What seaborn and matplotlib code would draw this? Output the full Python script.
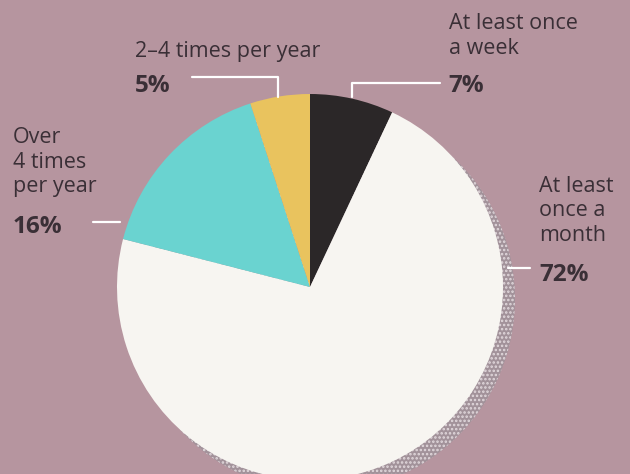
import matplotlib
matplotlib.use("Agg")
import matplotlib.pyplot as plt
import seaborn as sns
from matplotlib.patches import Circle

# Survey shares, clockwise from 12 o'clock
categories = ["At least once a week", "At least once a month",
              "Over 4 times per year", "2-4 times per year"]
shares = [7, 72, 16, 5]
label_texts = ["At least once\na week", "At least\nonce a\nmonth",
               "Over\n4 times\nper year", "2–4 times per year"]
slice_colors = ["#2b2728", "#f7f5f1", "#6ad3d0", "#e9c35e"]

BG = "#b6959f"
INK = "#3a2f36"

sns.set_theme(style="white")
plt.rcParams["font.family"] = ["Open Sans", "DejaVu Sans"]
plt.rcParams["hatch.color"] = "#e2d9dd"
plt.rcParams["hatch.linewidth"] = 1.2

W, H = 630, 474
fig = plt.figure(figsize=(W / 100, H / 100), dpi=100)
fig.patch.set_facecolor(BG)
ax = fig.add_axes([0, 0, 1, 1])
ax.set_facecolor(BG)

# pixel frame: pie centre and radius in image pixels
cx, cy, R = 310, 287, 193


def px(x, y):
    return (x - cx) / R, (cy - y) / R


# halftone drop shadow behind the pie
shadow = Circle((12 / R, -12 / R), 1.0, facecolor="#a2929a", edgecolor="#e2d9dd",
                hatch="....", linewidth=0, zorder=1)
ax.add_patch(shadow)

wedges, _ = ax.pie(shares, colors=slice_colors, startangle=90,
                   counterclock=False, radius=1.0,
                   wedgeprops=dict(linewidth=0))
for w in wedges:
    w.set_zorder(2)

ax.set_xlim(-cx / R, (W - cx) / R)
ax.set_ylim(-(H - cy) / R, cy / R)
ax.set_aspect("auto")
ax.axis("off")

# leader lines
lw = 1.6
lc = "white"
ax.plot(*zip(px(352, 97), px(352, 83), px(440, 83)), color=lc, lw=lw, zorder=3)
ax.plot(*zip(px(278, 97), px(278, 77), px(192, 77)), color=lc, lw=lw, zorder=3)
ax.plot(*zip(px(120, 222), px(93, 222)), color=lc, lw=lw, zorder=3)
ax.plot(*zip(px(508, 268), px(530, 268)), color=lc, lw=lw, zorder=3)

name_kw = dict(color=INK, fontsize=15.5, ha="left", va="center",
               linespacing=1.22, zorder=4)
pct_kw = dict(color=INK, fontsize=17.5, fontweight="bold", ha="left",
              va="center", zorder=4)

# At least once a week
ax.text(*px(449, 36), label_texts[0], **name_kw)
ax.text(*px(448, 86), f"{shares[0]}%", **pct_kw)
# At least once a month
ax.text(*px(539, 211), label_texts[1], **name_kw)
ax.text(*px(539, 275), f"{shares[1]}%", **pct_kw)
# Over 4 times per year
ax.text(*px(13, 162), label_texts[2], **name_kw)
ax.text(*px(13, 227), f"{shares[2]}%", **pct_kw)
# 2-4 times per year
ax.text(*px(135, 51), label_texts[3], **name_kw)
ax.text(*px(135, 86), f"{shares[3]}%", **pct_kw)

fig.savefig("out.png", dpi=100, facecolor=BG)
